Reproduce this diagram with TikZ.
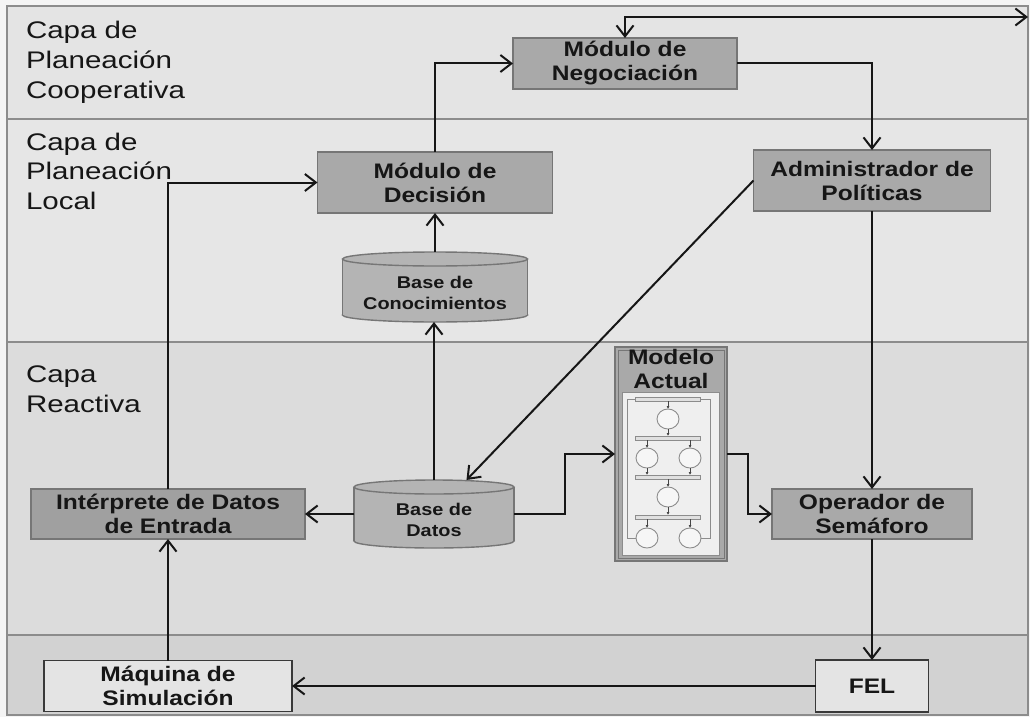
\documentclass[tikz,border=0pt]{standalone}
\usepackage{fontspec}
\setmainfont{Liberation Sans}
\newfontfamily\layerfont[FakeStretch=1.23]{Liberation Sans}
\newfontfamily\boxfont[FakeStretch=1.17]{Liberation Sans}
\usetikzlibrary{arrows.meta,backgrounds,calc}

\definecolor{paper}{HTML}{F4F4F4}
\definecolor{layerA}{HTML}{E4E4E4}
\definecolor{layerB}{HTML}{E6E6E6}
\definecolor{layerC}{HTML}{DCDCDC}
\definecolor{layerD}{HTML}{D2D2D2}
\definecolor{boxgray}{HTML}{A9A9A9}
\definecolor{boxdark}{HTML}{A0A0A0}
\definecolor{drumgray}{HTML}{B4B4B4}
\definecolor{boxedge}{HTML}{767676}
\definecolor{rulegray}{HTML}{8C8C8C}
\definecolor{ink}{HTML}{161616}
\definecolor{netline}{HTML}{8C8C8C}
\definecolor{netfill}{HTML}{F6F6F6}
\definecolor{netbar}{HTML}{E0E0E0}
\definecolor{panel}{HTML}{EFEFEF}

% cylinder body drawn behind a named node
\newcommand\drumbody[1]{%
  \filldraw[drum] let \p1=(#1.north west), \p2=(#1.south east),
    \n1={(\x1+\x2)/2}, \n2={(\x2-\x1)/2} in
    (\n1,\y2+7pt) ellipse [x radius=\n2, y radius=7pt];
  \fill[drumgray] let \p1=(#1.north west), \p2=(#1.south east) in
    (\x1,\y1-7pt) rectangle (\x2,\y2+7pt);
  \draw[drumedge] let \p1=(#1.north west), \p2=(#1.south east) in
    (\x1,\y1-7pt) -- (\x1,\y2+7pt) (\x2,\y1-7pt) -- (\x2,\y2+7pt);
  \filldraw[drum] let \p1=(#1.north west), \p2=(#1.south east),
    \n1={(\x1+\x2)/2}, \n2={(\x2-\x1)/2} in
    (\n1,\y1-7pt) ellipse [x radius=\n2, y radius=7pt];
}

\begin{document}
\begin{tikzpicture}[x=1pt,y=-1pt,
  >={Straight Barb[length=11pt,width=17pt]},
  every node/.style={inner sep=0pt, outer sep=0pt},
  layerlabel/.style={anchor=base west, align=left, text=ink,
    font=\layerfont\fontsize{24}{29.5}\selectfont},
  boxtext/.style={align=center, text=ink,
    font=\boxfont\bfseries\fontsize{21}{24}\selectfont},
  smalltext/.style={align=center, text=ink,
    font=\boxfont\bfseries\fontsize{17}{21}\selectfont},
  block/.style={boxtext, draw=boxedge, line width=1.4pt, fill=boxgray},
  plainblock/.style={boxtext, draw=ink!85, line width=1.8pt, fill=layerD!60!white},
  drumnode/.style={draw=none},
  drum/.style={fill=drumgray, draw=boxedge, line width=1.4pt},
  drumedge/.style={draw=boxedge, line width=1.4pt},
  flow/.style={draw=ink, line width=2pt},
  place/.style={fill=netfill, draw=netline, line width=0.9pt},
  bar/.style={fill=netbar, draw=netline, line width=0.8pt},
  netlink/.style={draw=netline, line width=0.9pt},
  tick/.style={draw=ink!80, line width=0.8pt, -{Latex[length=3pt,width=3pt]}},
]
\useasboundingbox (0,0) rectangle (1030,717);

% layer bands and frame
\begin{scope}[on background layer]
  \fill[paper] (0,0) rectangle (1030,717);
  \fill[layerA] (7,6) rectangle (1028,119);
  \fill[layerB] (7,119) rectangle (1028,342);
  \fill[layerC] (7,342) rectangle (1028,635);
  \fill[layerD] (7,635) rectangle (1028,715);
  \draw[rulegray, line width=1.2pt] (7,119) -- (1028,119) (7,342) -- (1028,342) (7,635) -- (1028,635);
  \draw[rulegray, line width=1.4pt] (7,6) rectangle (1028,715);
\end{scope}

% layer titles (anchored at the baseline of their last line)
\node[layerlabel] (lcoop) at (26,98) {Capa de\\Planeación\\Cooperativa};
\node[layerlabel] (lloc) at (26,209) {Capa de\\Planeación\\Local};
\node[layerlabel] (lreac) at (26,412) {Capa\\Reactiva};

% components
\node[block, minimum width=224pt, minimum height=51pt] (neg) at (625,63.5) {Módulo de\\Negociación};
\node[block, minimum width=235pt, minimum height=61pt] (dec) at (435,182.5) {Módulo de\\Decisión};
\node[block, minimum width=237pt, minimum height=61pt] (adm) at (872,180.5) {Administrador de\\Políticas};
\node[drumnode, minimum width=185pt, minimum height=70pt,
  label={[smalltext, yshift=-6pt]center:{Base de\\Conocimientos}}] (bc) at (435,287) {};
\node[drumnode, minimum width=160pt, minimum height=68pt,
  label={[smalltext, yshift=-6pt]center:{Base de\\Datos}}] (bd) at (434,514) {};
\node[block, fill=boxdark, minimum width=274pt, minimum height=50pt] (int) at (168,514) {Intérprete de Datos\\de Entrada};
\node[plainblock, minimum width=248pt, minimum height=51pt] (maq) at (168,686) {Máquina de\\Simulación};
\node[block, minimum width=112pt, minimum height=214pt] (mod) at (671,454) {};
\node[block, minimum width=200pt, minimum height=50pt] (ope) at (872,514) {Operador de\\Semáforo};
\node[plainblock, minimum width=113pt, minimum height=52pt] (fel) at (872,686) {FEL};

\begin{scope}[on background layer]
  \drumbody{bc}
  \drumbody{bd}
\end{scope}

% current model: title and Petri net
\draw[boxedge, line width=0.8pt] ($(mod.north west)+(3,3)$) rectangle ($(mod.south east)+(-3,-3)$);
\node[boxtext, anchor=north] (modtitle) at (671,349) {Modelo\\Actual};
\fill[panel] (622,392) rectangle (719,555);
\draw[netline, line width=0.8pt] (622,392) rectangle (719,555);
\draw[netlink] (635,399) -- (627,399) -- (627,538) -- (636,538);
\draw[netlink] (700,399) -- (710,399) -- (710,538) -- (701,538);
\foreach \yb in {399,438,477,517}
  \filldraw[bar] (635,\yb-2) rectangle (700,\yb+2);
\foreach \cx/\cy in {668/419, 647/458, 690/458, 668/497, 647/538, 690/538}
  \filldraw[place] (\cx,\cy) ellipse [x radius=11, y radius=10];
\foreach \xa/\ya/\yb in {668/401/409, 668/429/436, 647/440/448, 690/440/448,
    647/468/475, 690/468/475, 668/479/487, 668/507/515, 647/519/528, 690/519/528}
  \draw[tick] (\xa,\ya) -- (\xa,\yb);

% connectors
\coordinate (exit) at (1028,17);
\draw[flow,<->] (neg.north) |- (exit);
\draw[flow,->] (dec.north) |- (neg.west);
\draw[flow,->] (neg.east) -| (adm.north);
\draw[flow,->] (adm.west) -- (bd);
\draw[flow,->] (adm.south) -- (ope.north);
\draw[flow,->] (bc.north) -- (dec.south);
\draw[flow,->] (bd.north) -- (bd.north |- bc.south);
\draw[flow,->] (bd.west) -- (int.east);
\draw[flow,->] (bd.east) -- ++(51,0) |- (mod.west);
\draw[flow,->] (mod.east) -- ++(21,0) |- (ope.west);
\draw[flow,->] (ope.south) -- (fel.north);
\draw[flow,->] (fel.west) -- (maq.east);
\draw[flow,->] (maq.north) -- (int.south);
\draw[flow,->] (int.north) |- (dec.west);
\end{tikzpicture}
\end{document}
